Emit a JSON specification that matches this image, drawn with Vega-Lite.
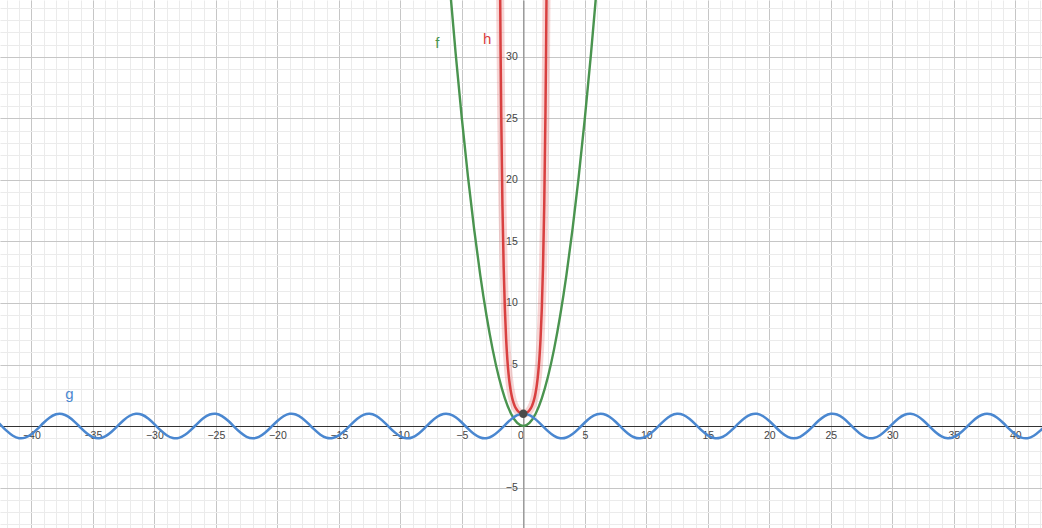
{
  "$schema": "https://vega.github.io/schema/vega-lite/v6.json",
  "width": 1042,
  "height": 528,
  "padding": 0,
  "autosize": {"type": "none"},
  "background": "white",
  "config": {"view": {"stroke": null}},
  "datasets": {
    "f": [
      {"x": -6, "y": 36}, {"x": -5.5, "y": 30.25}, {"x": -5, "y": 25}, {"x": -4.5, "y": 20.25}, {"x": -4, "y": 16},
      {"x": -3.5, "y": 12.25}, {"x": -3, "y": 9}, {"x": -2.5, "y": 6.25}, {"x": -2, "y": 4}, {"x": -1.5, "y": 2.25},
      {"x": -1, "y": 1}, {"x": -0.5, "y": 0.25}, {"x": 0, "y": 0}, {"x": 0.5, "y": 0.25}, {"x": 1, "y": 1},
      {"x": 1.5, "y": 2.25}, {"x": 2, "y": 4}, {"x": 2.5, "y": 6.25}, {"x": 3, "y": 9}, {"x": 3.5, "y": 12.25},
      {"x": 4, "y": 16}, {"x": 4.5, "y": 20.25}, {"x": 5, "y": 25}, {"x": 5.5, "y": 30.25}, {"x": 6, "y": 36}
    ],
    "h": [
      {"x": -1.9, "y": 36.97}, {"x": -1.85, "y": 30.65}, {"x": -1.8, "y": 25.53}, {"x": -1.7, "y": 17.99}, {"x": -1.6, "y": 12.94},
      {"x": -1.5, "y": 9.488}, {"x": -1.4, "y": 7.099}, {"x": -1.3, "y": 5.419}, {"x": -1.2, "y": 4.221}, {"x": -1.1, "y": 3.353},
      {"x": -1.0, "y": 2.718}, {"x": -0.9, "y": 2.248}, {"x": -0.8, "y": 1.896}, {"x": -0.7, "y": 1.632}, {"x": -0.6, "y": 1.433},
      {"x": -0.5, "y": 1.284}, {"x": -0.4, "y": 1.174}, {"x": -0.3, "y": 1.094}, {"x": -0.2, "y": 1.041}, {"x": -0.1, "y": 1.010},
      {"x": 0, "y": 1},
      {"x": 0.1, "y": 1.010}, {"x": 0.2, "y": 1.041}, {"x": 0.3, "y": 1.094}, {"x": 0.4, "y": 1.174}, {"x": 0.5, "y": 1.284},
      {"x": 0.6, "y": 1.433}, {"x": 0.7, "y": 1.632}, {"x": 0.8, "y": 1.896}, {"x": 0.9, "y": 2.248}, {"x": 1.0, "y": 2.718},
      {"x": 1.1, "y": 3.353}, {"x": 1.2, "y": 4.221}, {"x": 1.3, "y": 5.419}, {"x": 1.4, "y": 7.099}, {"x": 1.5, "y": 9.488},
      {"x": 1.6, "y": 12.94}, {"x": 1.7, "y": 17.99}, {"x": 1.8, "y": 25.53}, {"x": 1.85, "y": 30.65}, {"x": 1.9, "y": 36.97}
    ],
    "g": [
      {"x": -43, "y": 0.555}, {"x": -42.5, "y": 0.088}, {"x": -42, "y": -0.400}, {"x": -41.5, "y": -0.790}, {"x": -41, "y": -0.987},
      {"x": -40.5, "y": -0.943}, {"x": -40, "y": -0.667}, {"x": -39.5, "y": -0.228}, {"x": -39, "y": 0.267}, {"x": -38.5, "y": 0.696},
      {"x": -38, "y": 0.955}, {"x": -37.5, "y": 0.980}, {"x": -37, "y": 0.765}, {"x": -36.5, "y": 0.363}, {"x": -36, "y": -0.128},
      {"x": -35.5, "y": -0.588}, {"x": -35, "y": -0.904}, {"x": -34.5, "y": -0.998}, {"x": -34, "y": -0.849}, {"x": -33.5, "y": -0.491},
      {"x": -33, "y": -0.013}, {"x": -32.5, "y": 0.468}, {"x": -32, "y": 0.834}, {"x": -31.5, "y": 0.996}, {"x": -31, "y": 0.915},
      {"x": -30.5, "y": 0.609}, {"x": -30, "y": 0.154}, {"x": -29.5, "y": -0.338}, {"x": -29, "y": -0.748}, {"x": -28.5, "y": -0.975},
      {"x": -28, "y": -0.963}, {"x": -27.5, "y": -0.715}, {"x": -27, "y": -0.292}, {"x": -26.5, "y": 0.202}, {"x": -26, "y": 0.647},
      {"x": -25.5, "y": 0.933}, {"x": -25, "y": 0.991}, {"x": -24.5, "y": 0.806}, {"x": -24, "y": 0.424}, {"x": -23.5, "y": -0.062},
      {"x": -23, "y": -0.533}, {"x": -22.5, "y": -0.873}, {"x": -22, "y": -1.000}, {"x": -21.5, "y": -0.882}, {"x": -21, "y": -0.548},
      {"x": -20.5, "y": -0.080}, {"x": -20, "y": 0.408}, {"x": -19.5, "y": 0.796}, {"x": -19, "y": 0.989}, {"x": -18.5, "y": 0.940},
      {"x": -18, "y": 0.660}, {"x": -17.5, "y": 0.219}, {"x": -17, "y": -0.275}, {"x": -16.5, "y": -0.702}, {"x": -16, "y": -0.958},
      {"x": -15.5, "y": -0.978}, {"x": -15, "y": -0.760}, {"x": -14.5, "y": -0.355}, {"x": -14, "y": 0.137}, {"x": -13.5, "y": 0.595},
      {"x": -13, "y": 0.907}, {"x": -12.5, "y": 0.998}, {"x": -12, "y": 0.844}, {"x": -11.5, "y": 0.483}, {"x": -11, "y": 0.004},
      {"x": -10.5, "y": -0.476}, {"x": -10, "y": -0.839}, {"x": -9.5, "y": -0.997}, {"x": -9, "y": -0.911}, {"x": -8.5, "y": -0.602},
      {"x": -8, "y": -0.146}, {"x": -7.5, "y": 0.347}, {"x": -7, "y": 0.754}, {"x": -6.5, "y": 0.977}, {"x": -6, "y": 0.960},
      {"x": -5.5, "y": 0.709}, {"x": -5, "y": 0.284}, {"x": -4.5, "y": -0.211}, {"x": -4, "y": -0.654}, {"x": -3.5, "y": -0.936},
      {"x": -3, "y": -0.990}, {"x": -2.5, "y": -0.801}, {"x": -2, "y": -0.416}, {"x": -1.5, "y": 0.071}, {"x": -1, "y": 0.540},
      {"x": -0.5, "y": 0.878}, {"x": 0, "y": 1},
      {"x": 0.5, "y": 0.878}, {"x": 1, "y": 0.540}, {"x": 1.5, "y": 0.071}, {"x": 2, "y": -0.416}, {"x": 2.5, "y": -0.801},
      {"x": 3, "y": -0.990}, {"x": 3.5, "y": -0.936}, {"x": 4, "y": -0.654}, {"x": 4.5, "y": -0.211}, {"x": 5, "y": 0.284},
      {"x": 5.5, "y": 0.709}, {"x": 6, "y": 0.960}, {"x": 6.5, "y": 0.977}, {"x": 7, "y": 0.754}, {"x": 7.5, "y": 0.347},
      {"x": 8, "y": -0.146}, {"x": 8.5, "y": -0.602}, {"x": 9, "y": -0.911}, {"x": 9.5, "y": -0.997}, {"x": 10, "y": -0.839},
      {"x": 10.5, "y": -0.476}, {"x": 11, "y": 0.004}, {"x": 11.5, "y": 0.483}, {"x": 12, "y": 0.844}, {"x": 12.5, "y": 0.998},
      {"x": 13, "y": 0.907}, {"x": 13.5, "y": 0.595}, {"x": 14, "y": 0.137}, {"x": 14.5, "y": -0.355}, {"x": 15, "y": -0.760},
      {"x": 15.5, "y": -0.978}, {"x": 16, "y": -0.958}, {"x": 16.5, "y": -0.702}, {"x": 17, "y": -0.275}, {"x": 17.5, "y": 0.219},
      {"x": 18, "y": 0.660}, {"x": 18.5, "y": 0.940}, {"x": 19, "y": 0.989}, {"x": 19.5, "y": 0.796}, {"x": 20, "y": 0.408},
      {"x": 20.5, "y": -0.080}, {"x": 21, "y": -0.548}, {"x": 21.5, "y": -0.882}, {"x": 22, "y": -1.000}, {"x": 22.5, "y": -0.873},
      {"x": 23, "y": -0.533}, {"x": 23.5, "y": -0.062}, {"x": 24, "y": 0.424}, {"x": 24.5, "y": 0.806}, {"x": 25, "y": 0.991},
      {"x": 25.5, "y": 0.933}, {"x": 26, "y": 0.647}, {"x": 26.5, "y": 0.202}, {"x": 27, "y": -0.292}, {"x": 27.5, "y": -0.715},
      {"x": 28, "y": -0.963}, {"x": 28.5, "y": -0.975}, {"x": 29, "y": -0.748}, {"x": 29.5, "y": -0.338}, {"x": 30, "y": 0.154},
      {"x": 30.5, "y": 0.609}, {"x": 31, "y": 0.915}, {"x": 31.5, "y": 0.996}, {"x": 32, "y": 0.834}, {"x": 32.5, "y": 0.468},
      {"x": 33, "y": -0.013}, {"x": 33.5, "y": -0.491}, {"x": 34, "y": -0.849}, {"x": 34.5, "y": -0.998}, {"x": 35, "y": -0.904},
      {"x": 35.5, "y": -0.588}, {"x": 36, "y": -0.128}, {"x": 36.5, "y": 0.363}, {"x": 37, "y": 0.765}, {"x": 37.5, "y": 0.980},
      {"x": 38, "y": 0.955}, {"x": 38.5, "y": 0.696}, {"x": 39, "y": 0.267}, {"x": 39.5, "y": -0.228}, {"x": 40, "y": -0.667},
      {"x": 40.5, "y": -0.943}, {"x": 41, "y": -0.987}, {"x": 41.5, "y": -0.790}, {"x": 42, "y": -0.400}, {"x": 42.5, "y": 0.088},
      {"x": 43, "y": 0.555}
    ],
    "pt": [{"x": 0, "y": 1}],
    "labels": [
      {"name": "f", "x": -7.0, "y": 31.1},
      {"name": "h", "x": -2.95, "y": 31.5},
      {"name": "g", "x": -36.9, "y": 2.6}
    ]
  },
  "resolve": {"axis": {"x": "independent", "y": "independent"}},
  "layer": [
    {
      "data": {"name": "f"},
      "mark": {"type": "line", "clip": true, "interpolate": "natural", "strokeWidth": 2.4, "color": "#4a944f"},
      "encoding": {
        "x": {"field": "x", "type": "quantitative", "scale": {"domain": [-42.55, 42.17], "nice": false, "zero": false},
          "axis": {"orient": "bottom", "values": [-42,-41,-40,-39,-38,-37,-36,-35,-34,-33,-32,-31,-30,-29,-28,-27,-26,-25,-24,-23,-22,-21,-20,-19,-18,-17,-16,-15,-14,-13,-12,-11,-10,-9,-8,-7,-6,-5,-4,-3,-2,-1,0,1,2,3,4,5,6,7,8,9,10,11,12,13,14,15,16,17,18,19,20,21,22,23,24,25,26,27,28,29,30,31,32,33,34,35,36,37,38,39,40,41,42],
            "grid": true, "gridColor": "#ebebeb", "gridWidth": 1, "labels": false, "ticks": false, "domain": false, "title": null, "zindex": 0}},
        "y": {"field": "y", "type": "quantitative", "scale": {"domain": [-8.29, 34.63], "nice": false, "zero": false},
          "axis": {"orient": "left", "values": [-8,-7,-6,-5,-4,-3,-2,-1,0,1,2,3,4,5,6,7,8,9,10,11,12,13,14,15,16,17,18,19,20,21,22,23,24,25,26,27,28,29,30,31,32,33,34],
            "grid": true, "gridColor": "#ebebeb", "gridWidth": 1, "labels": false, "ticks": false, "domain": false, "title": null, "zindex": 0}}
      }
    },
    {
      "data": {"name": "h"},
      "mark": {"type": "line", "clip": true, "interpolate": "monotone", "strokeWidth": 8, "color": "#e05555", "opacity": 0.25},
      "encoding": {
        "x": {"field": "x", "type": "quantitative", "scale": {"domain": [-42.55, 42.17], "nice": false, "zero": false},
          "axis": {"orient": "bottom", "offset": -102, "values": [-40,-35,-30,-25,-20,-15,-10,-5,0,5,10,15,20,25,30,35,40],
            "grid": true, "gridColor": "#c6c6c6", "gridWidth": 1, "ticks": false, "domain": true, "domainColor": "#333333", "domainWidth": 1,
            "labelPadding": 4, "labelFont": "Liberation Sans", "labelFontSize": 10.5, "labelColor": "#444444",
            "labelOverlap": false, "labelFlush": false, "labelBound": false,
            "labelAlign": {"condition": {"test": "datum.value === 0", "value": "right"}, "value": "center"},
            "labelExpr": "datum.value === 0 ? '0\u00a0\u00a0' : datum.label",
            "title": null, "zindex": 0}},
        "y": {"field": "y", "type": "quantitative", "scale": {"domain": [-8.29, 34.63], "nice": false, "zero": false},
          "axis": {"orient": "left", "offset": -523.3, "values": [-5,0,5,10,15,20,25,30],
            "grid": true, "gridColor": "#c6c6c6", "gridWidth": 1, "ticks": false, "domain": true, "domainColor": "#9a9a9a", "domainWidth": 1.5,
            "labelPadding": 6, "labelFont": "Liberation Sans", "labelFontSize": 10.5, "labelColor": "#444444",
            "labelOverlap": false, "labelFlush": false, "labelBound": false,
            "labelExpr": "datum.value === 0 ? '' : datum.label",
            "title": null, "zindex": 0}}
      }
    },
    {
      "data": {"name": "h"},
      "mark": {"type": "line", "clip": true, "interpolate": "monotone", "strokeWidth": 2.5, "color": "#d94040"},
      "encoding": {
        "x": {"field": "x", "type": "quantitative", "scale": {"domain": [-42.55, 42.17], "nice": false, "zero": false}, "axis": null},
        "y": {"field": "y", "type": "quantitative", "scale": {"domain": [-8.29, 34.63], "nice": false, "zero": false}, "axis": null}
      }
    },
    {
      "data": {"name": "g"},
      "mark": {"type": "line", "clip": true, "interpolate": "natural", "strokeWidth": 2.5, "color": "#4a87d0"},
      "encoding": {
        "x": {"field": "x", "type": "quantitative", "scale": {"domain": [-42.55, 42.17], "nice": false, "zero": false}, "axis": null},
        "y": {"field": "y", "type": "quantitative", "scale": {"domain": [-8.29, 34.63], "nice": false, "zero": false}, "axis": null}
      }
    },
    {
      "data": {"name": "pt"},
      "mark": {"type": "circle", "size": 70, "color": "#4a4a4a", "opacity": 1},
      "encoding": {
        "x": {"field": "x", "type": "quantitative", "scale": {"domain": [-42.55, 42.17], "nice": false, "zero": false}, "axis": null},
        "y": {"field": "y", "type": "quantitative", "scale": {"domain": [-8.29, 34.63], "nice": false, "zero": false}, "axis": null}
      }
    },
    {
      "data": {"name": "labels"},
      "mark": {"type": "text", "font": "Liberation Sans", "fontSize": 15, "align": "center", "baseline": "middle"},
      "encoding": {
        "x": {"field": "x", "type": "quantitative", "scale": {"domain": [-42.55, 42.17], "nice": false, "zero": false}, "axis": null},
        "y": {"field": "y", "type": "quantitative", "scale": {"domain": [-8.29, 34.63], "nice": false, "zero": false}, "axis": null},
        "text": {"field": "name"},
        "color": {"field": "name", "type": "nominal", "scale": {"domain": ["f", "g", "h"], "range": ["#4a944f", "#4a87d0", "#d94040"]}, "legend": null}
      }
    }
  ]
}
